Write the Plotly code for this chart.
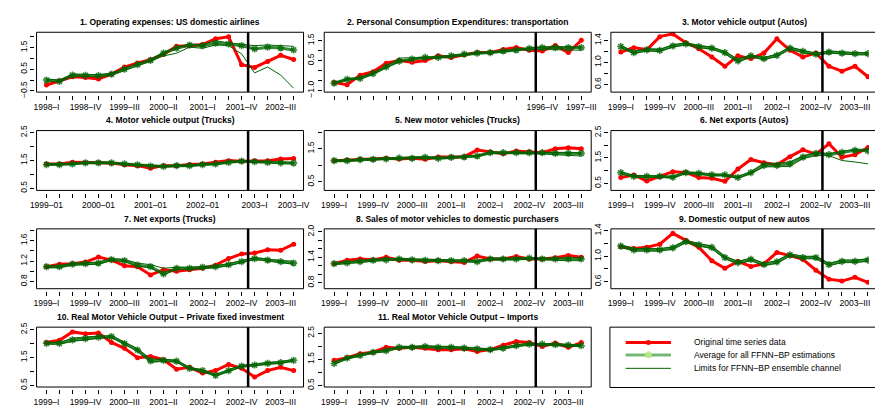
import plotly.graph_objects as go

FONT = "Liberation Sans, Arial, Helvetica, sans-serif"

# ---------------- data ----------------
QUARTER_INDEX = list(range(1, 21))
FORECAST_START = 16.5

TITLES = [
    "1. Operating expenses: US domestic airlines",
    "2. Personal Consumption Expenditures: transportation",
    "3. Motor vehicle output (Autos)",
    "4. Motor vehicle output (Trucks)",
    "5. New motor vehicles (Trucks)",
    "6. Net exports (Autos)",
    "7. Net exports (Trucks)",
    "8. Sales of motor vehicles to domestic purchasers",
    "9. Domestic output of new autos",
    "10. Real Motor Vehicle Output \u2013 Private fixed investment",
    "11. Real Motor Vehicle Output \u2013 Imports",
]

XTICK_POS_STD = [1, 4, 7, 10, 13, 16, 19]
XTICK_TXT_STD = ["1999\u2013I", "1999\u2013IV", "2000\u2013III", "2001\u2013II", "2002\u2013I", "2002\u2013IV", "2003\u2013III"]
XTICK_POS_1 = [1, 4, 7, 10, 13, 16, 19]
XTICK_TXT_1 = ["1998\u2013I", "1998\u2013IV", "1999\u2013III", "2000\u2013II", "2001\u2013I", "2001\u2013IV", "2002\u2013III"]
XTICK_POS_2 = [17, 20]
XTICK_TXT_2 = ["1996\u2013IV", "1997\u2013III"]
XTICK_POS_4 = [1, 5, 9, 13, 17, 20]
XTICK_TXT_4 = ["1999\u201301", "2000\u201301", "2001\u201301", "2002\u201301", "2003\u2013I", "2003\u2013IV"]

ORIG_1 = [-0.23, -0.03, 0.15, 0.12, 0.05, 0.27, 0.60, 0.79, 0.94, 1.18, 1.56, 1.59, 1.64, 1.91, 2.00, 0.71, 0.58, 0.86, 1.14, 0.95]
AVG_1 = [0.00, -0.06, 0.23, 0.21, 0.20, 0.27, 0.50, 0.71, 0.91, 1.24, 1.47, 1.62, 1.59, 1.70, 1.67, 1.59, 1.44, 1.52, 1.48, 1.39]
UP_1 = [0.05, 0.00, 0.27, 0.26, 0.25, 0.31, 0.55, 0.76, 0.95, 1.27, 1.52, 1.66, 1.64, 1.82, 1.72, 1.64, 1.59, 1.62, 1.59, 1.56]
LO_1 = [-0.04, -0.09, 0.19, 0.17, 0.15, 0.22, 0.45, 0.66, 0.86, 1.12, 1.24, 1.52, 1.47, 1.62, 1.59, 1.21, 0.33, 0.60, 0.23, -0.38]

ORIG_2 = [-0.60, -0.71, -0.23, -0.06, 0.37, 0.50, 0.42, 0.50, 0.74, 0.66, 0.79, 0.90, 0.90, 1.06, 1.15, 1.02, 0.98, 1.26, 0.90, 1.52]
AVG_2 = [-0.63, -0.44, -0.39, -0.15, 0.18, 0.47, 0.58, 0.66, 0.66, 0.74, 0.82, 0.87, 0.90, 0.98, 1.03, 1.10, 1.15, 1.15, 1.15, 1.15]
UP_2 = [-0.60, -0.41, -0.36, -0.12, 0.21, 0.63, 0.64, 0.68, 0.69, 0.77, 0.85, 0.90, 0.93, 1.01, 1.06, 1.13, 1.18, 1.18, 1.18, 1.18]
LO_2 = [-0.66, -0.47, -0.42, -0.18, 0.15, 0.44, 0.55, 0.63, 0.63, 0.71, 0.79, 0.84, 0.87, 0.95, 1.00, 1.07, 1.05, 1.03, 1.03, 1.02]

ORIG_3 = [1.19, 1.27, 1.23, 1.47, 1.52, 1.36, 1.25, 1.10, 0.93, 1.12, 1.07, 1.17, 1.43, 1.22, 1.10, 1.17, 0.93, 0.84, 0.93, 0.74]
AVG_3 = [1.29, 1.18, 1.23, 1.22, 1.30, 1.34, 1.29, 1.26, 1.18, 1.03, 1.12, 1.07, 1.13, 1.26, 1.20, 1.15, 1.19, 1.17, 1.16, 1.16]
UP_3 = [1.31, 1.20, 1.25, 1.24, 1.32, 1.36, 1.31, 1.28, 1.20, 1.06, 1.14, 1.09, 1.15, 1.28, 1.22, 1.17, 1.21, 1.19, 1.18, 1.18]
LO_3 = [1.27, 1.16, 1.21, 1.20, 1.28, 1.32, 1.27, 1.24, 1.16, 1.00, 1.10, 1.05, 1.11, 1.24, 1.18, 1.13, 1.17, 1.15, 1.14, 1.14]

ORIG_4 = [1.37, 1.37, 1.43, 1.41, 1.41, 1.40, 1.34, 1.31, 1.22, 1.31, 1.31, 1.35, 1.37, 1.43, 1.49, 1.47, 1.49, 1.49, 1.55, 1.57]
AVG_4 = [1.35, 1.35, 1.37, 1.41, 1.41, 1.41, 1.37, 1.34, 1.29, 1.28, 1.31, 1.31, 1.35, 1.37, 1.43, 1.47, 1.45, 1.43, 1.41, 1.40]
UP_4 = [1.37, 1.37, 1.39, 1.43, 1.43, 1.43, 1.39, 1.36, 1.31, 1.30, 1.33, 1.33, 1.37, 1.39, 1.45, 1.49, 1.47, 1.46, 1.44, 1.43]
LO_4 = [1.33, 1.33, 1.35, 1.39, 1.39, 1.39, 1.35, 1.32, 1.27, 1.26, 1.29, 1.29, 1.33, 1.35, 1.41, 1.45, 1.43, 1.40, 1.38, 1.37]

ORIG_5 = [1.14, 1.16, 1.18, 1.18, 1.21, 1.19, 1.21, 1.18, 1.25, 1.25, 1.26, 1.46, 1.40, 1.35, 1.43, 1.41, 1.38, 1.50, 1.53, 1.50]
AVG_5 = [1.14, 1.14, 1.17, 1.18, 1.19, 1.22, 1.21, 1.24, 1.21, 1.24, 1.25, 1.28, 1.38, 1.38, 1.38, 1.38, 1.38, 1.36, 1.36, 1.36]
UP_5 = [1.16, 1.16, 1.19, 1.20, 1.21, 1.24, 1.23, 1.26, 1.23, 1.26, 1.27, 1.30, 1.40, 1.40, 1.40, 1.40, 1.40, 1.38, 1.38, 1.38]
LO_5 = [1.12, 1.12, 1.15, 1.16, 1.17, 1.20, 1.19, 1.22, 1.19, 1.22, 1.23, 1.26, 1.36, 1.36, 1.36, 1.36, 1.35, 1.32, 1.30, 1.28]

ORIG_6 = [0.73, 0.83, 0.59, 0.77, 0.96, 0.93, 0.73, 0.70, 0.58, 1.06, 1.44, 1.31, 1.23, 1.55, 1.82, 1.65, 2.06, 1.53, 1.63, 1.91]
AVG_6 = [0.92, 0.77, 0.77, 0.77, 0.74, 0.92, 0.89, 0.83, 0.83, 0.73, 0.92, 1.21, 1.21, 1.27, 1.53, 1.68, 1.63, 1.72, 1.80, 1.78]
UP_6 = [0.96, 0.81, 0.80, 0.80, 0.78, 0.95, 0.92, 0.86, 0.86, 0.76, 0.96, 1.30, 1.28, 1.35, 1.58, 1.72, 1.67, 1.76, 1.84, 1.84]
LO_6 = [0.88, 0.74, 0.74, 0.74, 0.71, 0.89, 0.86, 0.80, 0.80, 0.70, 0.88, 1.15, 1.15, 1.17, 1.47, 1.59, 1.59, 1.40, 1.34, 1.27]

ORIG_7 = [1.09, 1.14, 1.15, 1.18, 1.28, 1.22, 1.11, 1.09, 0.93, 1.03, 1.00, 1.03, 1.06, 1.12, 1.25, 1.34, 1.36, 1.42, 1.41, 1.53]
AVG_7 = [1.09, 1.09, 1.14, 1.15, 1.16, 1.23, 1.21, 1.12, 1.09, 0.95, 1.06, 1.06, 1.08, 1.09, 1.13, 1.19, 1.25, 1.22, 1.19, 1.16]
UP_7 = [1.11, 1.11, 1.16, 1.17, 1.18, 1.25, 1.23, 1.16, 1.13, 1.06, 1.08, 1.08, 1.10, 1.11, 1.15, 1.21, 1.27, 1.24, 1.21, 1.20]
LO_7 = [1.07, 1.07, 1.12, 1.13, 1.14, 1.21, 1.19, 1.10, 1.07, 0.93, 1.04, 1.04, 1.06, 1.07, 1.11, 1.17, 1.23, 1.20, 1.17, 1.14]

ORIG_8 = [1.25, 1.33, 1.36, 1.34, 1.40, 1.33, 1.33, 1.30, 1.32, 1.30, 1.28, 1.43, 1.36, 1.36, 1.42, 1.36, 1.36, 1.39, 1.44, 1.40]
AVG_8 = [1.25, 1.27, 1.30, 1.33, 1.34, 1.36, 1.34, 1.33, 1.32, 1.32, 1.32, 1.30, 1.36, 1.36, 1.36, 1.38, 1.36, 1.36, 1.36, 1.36]
UP_8 = [1.27, 1.29, 1.32, 1.35, 1.36, 1.38, 1.36, 1.35, 1.34, 1.34, 1.34, 1.32, 1.38, 1.38, 1.38, 1.40, 1.38, 1.38, 1.39, 1.39]
LO_8 = [1.23, 1.25, 1.28, 1.31, 1.32, 1.34, 1.32, 1.31, 1.30, 1.30, 1.30, 1.28, 1.34, 1.34, 1.34, 1.36, 1.34, 1.33, 1.32, 1.32]

ORIG_9 = [1.15, 1.12, 1.14, 1.19, 1.36, 1.25, 1.14, 0.93, 0.81, 0.92, 0.84, 0.88, 1.06, 1.01, 0.95, 0.78, 0.64, 0.61, 0.67, 0.59]
AVG_9 = [1.16, 1.10, 1.10, 1.10, 1.13, 1.23, 1.18, 1.14, 0.98, 0.90, 0.95, 0.87, 0.91, 1.02, 0.98, 0.98, 0.87, 0.92, 0.92, 0.94]
UP_9 = [1.18, 1.12, 1.12, 1.12, 1.15, 1.25, 1.20, 1.16, 1.00, 0.92, 0.97, 0.89, 0.93, 1.04, 1.00, 1.00, 0.89, 0.94, 0.94, 0.96]
LO_9 = [1.14, 1.08, 1.08, 1.08, 1.11, 1.21, 1.16, 1.12, 0.96, 0.88, 0.93, 0.85, 0.89, 1.00, 0.96, 0.96, 0.85, 0.90, 0.90, 0.92]

ORIG_10 = [2.04, 2.12, 2.42, 2.35, 2.38, 2.04, 1.83, 1.49, 1.54, 1.42, 1.08, 1.15, 0.94, 1.03, 1.25, 1.11, 0.80, 1.03, 1.15, 1.03]
AVG_10 = [2.01, 2.01, 2.13, 2.18, 2.23, 2.25, 2.00, 1.77, 1.38, 1.40, 1.37, 1.11, 1.03, 0.86, 1.03, 1.19, 1.23, 1.29, 1.32, 1.40]
UP_10 = [2.04, 2.04, 2.20, 2.24, 2.27, 2.28, 2.04, 1.82, 1.45, 1.44, 1.40, 1.14, 1.06, 0.89, 1.06, 1.22, 1.26, 1.32, 1.35, 1.43]
LO_10 = [1.98, 1.98, 2.08, 2.14, 2.19, 2.22, 1.96, 1.72, 1.33, 1.36, 1.34, 1.08, 1.00, 0.83, 1.00, 1.16, 1.20, 1.26, 1.29, 1.37]

ORIG_11 = [1.46, 1.56, 1.71, 1.77, 1.96, 1.92, 1.96, 1.92, 1.87, 1.87, 1.90, 1.80, 1.87, 2.04, 2.18, 2.14, 1.99, 2.12, 1.96, 2.14]
AVG_11 = [1.34, 1.55, 1.65, 1.77, 1.83, 1.96, 1.96, 1.99, 1.96, 1.96, 1.93, 1.90, 1.87, 1.93, 2.02, 2.08, 2.08, 2.06, 2.04, 2.02]
UP_11 = [1.37, 1.58, 1.68, 1.80, 1.86, 1.99, 1.99, 2.02, 1.99, 1.99, 1.96, 1.93, 1.90, 1.96, 2.05, 2.11, 2.11, 2.09, 2.07, 2.05]
LO_11 = [1.31, 1.52, 1.62, 1.74, 1.80, 1.93, 1.93, 1.96, 1.93, 1.93, 1.90, 1.87, 1.84, 1.90, 1.99, 2.05, 2.05, 2.03, 2.01, 1.99]

M = "\u2212"
PANELS = [
    dict(orig=ORIG_1, avg=AVG_1, up=UP_1, lo=LO_1, yr=[-0.56, 2.21],
         yt=[-0.5, 0, 0.5, 1, 1.5, 2], yl=[M + "0.5", "", "0.5", "", "1.5", ""],
         xp=XTICK_POS_1, xt=XTICK_TXT_1),
    dict(orig=ORIG_2, avg=AVG_2, up=UP_2, lo=LO_2, yr=[-1.08, 1.92],
         yt=[-1, -0.5, 0, 0.5, 1, 1.5], yl=[M + "1.0", "", "", "0.5", "", "1.5"],
         xp=XTICK_POS_2, xt=XTICK_TXT_2),
    dict(orig=ORIG_3, avg=AVG_3, up=UP_3, lo=LO_3, yr=[0.46, 1.55],
         yt=[0.6, 0.8, 1.0, 1.2, 1.4], yl=["0.6", "", "1.0", "", "1.4"],
         xp=XTICK_POS_STD, xt=XTICK_TXT_STD),
    dict(orig=ORIG_4, avg=AVG_4, up=UP_4, lo=LO_4, yr=[0.42, 2.57],
         yt=[0.5, 1, 1.5, 2, 2.5], yl=["0.5", "", "1.5", "", "2.5"],
         xp=XTICK_POS_4, xt=XTICK_TXT_4),
    dict(orig=ORIG_5, avg=AVG_5, up=UP_5, lo=LO_5, yr=[0.24, 2.05],
         yt=[0.5, 1, 1.5, 2], yl=["0.5", "", "1.5", ""],
         xp=XTICK_POS_STD, xt=XTICK_TXT_STD),
    dict(orig=ORIG_6, avg=AVG_6, up=UP_6, lo=LO_6, yr=[0.22, 2.58],
         yt=[0.5, 1, 1.5, 2, 2.5], yl=["0.5", "", "1.5", "", "2.5"],
         xp=XTICK_POS_STD, xt=XTICK_TXT_STD),
    dict(orig=ORIG_7, avg=AVG_7, up=UP_7, lo=LO_7, yr=[0.66, 1.83],
         yt=[0.8, 1.0, 1.2, 1.4, 1.6, 1.8], yl=["0.8", "", "1.2", "", "1.6", ""],
         xp=XTICK_POS_STD, xt=XTICK_TXT_STD),
    dict(orig=ORIG_8, avg=AVG_8, up=UP_8, lo=LO_8, yr=[0.66, 2.07],
         yt=[0.8, 1.0, 1.2, 1.4, 1.6, 1.8, 2.0], yl=["0.8", "", "", "1.4", "", "", "2.0"],
         xp=XTICK_POS_STD, xt=XTICK_TXT_STD),
    dict(orig=ORIG_9, avg=AVG_9, up=UP_9, lo=LO_9, yr=[0.49, 1.43],
         yt=[0.6, 0.8, 1.0, 1.2, 1.4], yl=["0.6", "", "1.0", "", "1.4"],
         xp=XTICK_POS_STD, xt=XTICK_TXT_STD),
    dict(orig=ORIG_10, avg=AVG_10, up=UP_10, lo=LO_10, yr=[0.44, 2.59],
         yt=[0.5, 1, 1.5, 2, 2.5], yl=["0.5", "", "1.5", "", "2.5"],
         xp=XTICK_POS_STD, xt=XTICK_TXT_STD),
    dict(orig=ORIG_11, avg=AVG_11, up=UP_11, lo=LO_11, yr=[0.44, 2.73],
         yt=[0.5, 1, 1.5, 2, 2.5], yl=["0.5", "", "1.5", "", "2.5"],
         xp=XTICK_POS_STD, xt=XTICK_TXT_STD),
]

LEGEND_LABELS = ["Original time series data", "Average for all FFNN\u2013BP estimations",
                 "Limits for FFNN\u2013BP ensemble channel"]

# ---------------- styling / layout ----------------
W, H = 875, 412
COL_LEFT = [30, 322, 613]
BOX_W = 271
ROW_TOP = [28, 129, 230, 331]
BOX_H = 61.5
XR = (0.24, 20.76)
AXGAP = 2.5
TICK_FS = 8.5

RED = "#FF0000"
AVG_LINE = "rgba(0,100,0,0.78)"
DKGREEN = "#006400"

fig = go.Figure()
layout = dict(width=W, height=H, margin=dict(l=0, r=0, t=0, b=0),
              paper_bgcolor="white", plot_bgcolor="white", showlegend=False,
              font=dict(family=FONT, size=8.5, color="black"))
shapes, annotations = [], []


def px(x):
    return x / W


def py(y):
    return 1 - y / H


for i, p in enumerate(PANELS):
    n = i + 1
    r, c = divmod(i, 3)
    sx = "" if n == 1 else str(n)
    xa, ya = "x" + sx, "y" + sx
    left = COL_LEFT[c]
    right = left + BOX_W
    top = ROW_TOP[r]
    bot = top + BOX_H
    vis_right = min(right, W)
    xr1 = XR[0] + (vis_right - left) / BOX_W * (XR[1] - XR[0])

    ticktext = [p["xt"][p["xp"].index(q)] if q in p["xp"] else "" for q in QUARTER_INDEX]
    layout["xaxis" + sx] = dict(
        domain=[px(left), px(vis_right)], range=[XR[0], xr1], anchor="free",
        position=py(bot + AXGAP), tickvals=QUARTER_INDEX, ticktext=ticktext,
        ticks="outside", ticklen=4, tickwidth=1, tickcolor="black",
        showgrid=False, zeroline=False, showline=False, tickangle=0,
        ticklabeloverflow="allow",
        tickfont=dict(size=TICK_FS, family=FONT, color="black"), fixedrange=True)
    layout["yaxis" + sx] = dict(
        domain=[py(bot), py(top)], range=p["yr"], anchor="free",
        position=px(left - AXGAP), tickvals=p["yt"], ticktext=p["yl"],
        ticks="outside", ticklen=4, tickwidth=1, tickcolor="black", tickangle=-90,
        showgrid=False, zeroline=False, showline=False,
        tickfont=dict(size=TICK_FS, family=FONT, color="black"), fixedrange=True)

    fig.add_trace(go.Scatter(x=QUARTER_INDEX, y=p["orig"], mode="lines+markers",
                             line=dict(color=RED, width=3),
                             marker=dict(size=5, color=RED),
                             xaxis=xa, yaxis=ya))
    for lim in (p["up"], p["lo"]):
        fig.add_trace(go.Scatter(x=QUARTER_INDEX, y=lim, mode="lines",
                                 line=dict(color=DKGREEN, width=1),
                                 xaxis=xa, yaxis=ya))
    fig.add_trace(go.Scatter(x=QUARTER_INDEX, y=p["avg"], mode="lines+markers",
                             line=dict(color=AVG_LINE, width=3),
                             marker=dict(symbol="asterisk-open", size=6,
                                         line=dict(color=DKGREEN, width=1.6)),
                             xaxis=xa, yaxis=ya))

    shapes.append(dict(type="rect", xref="paper", yref="paper",
                       x0=px(left), x1=px(right), y0=py(bot), y1=py(top),
                       line=dict(color="black", width=1)))
    shapes.append(dict(type="line", xref=xa, yref=ya + " domain",
                       x0=FORECAST_START, x1=FORECAST_START, y0=0, y1=1,
                       line=dict(color="black", width=2.5)))
    annotations.append(dict(text="<b>" + TITLES[i] + "</b>", xref="paper", yref="paper",
                            x=px((left + right) / 2), y=py(top - 10.5),
                            xanchor="center", yanchor="middle", showarrow=False,
                            font=dict(size=8.5, family=FONT, color="black")))

# ---------------- legend box ----------------
LG_L, LG_R, LG_T, LG_B = 612, 884, 331, 393
shapes.append(dict(type="rect", xref="paper", yref="paper",
                   x0=px(LG_L), x1=px(LG_R), y0=py(LG_B), y1=py(LG_T),
                   line=dict(color="black", width=1)))
layout["xaxis12"] = dict(domain=[px(LG_L), 1], range=[LG_L, W], visible=False,
                         fixedrange=True, anchor="y12")
layout["yaxis12"] = dict(domain=[py(LG_B), py(LG_T)], range=[LG_B, LG_T], visible=False,
                         fixedrange=True, anchor="x12")
rows_y = [346.7, 359.5, 373.3]
styles = [
    dict(line=dict(color=RED, width=3), marker=dict(size=5, color=RED)),
    dict(line=dict(color="rgba(0,128,0,0.55)", width=3),
         marker=dict(symbol="asterisk-open", size=6, line=dict(color=DKGREEN, width=1.6))),
    dict(line=dict(color=DKGREEN, width=1), marker=dict(size=0.1, color="rgba(0,0,0,0)")),
]
for yy, st, lab in zip(rows_y, styles, LEGEND_LABELS):
    fig.add_trace(go.Scatter(x=[628, 651, 674], y=[yy, yy, yy], mode="lines",
                             line=st["line"], xaxis="x12", yaxis="y12", hoverinfo="skip"))
    fig.add_trace(go.Scatter(x=[651], y=[yy], mode="markers", marker=st["marker"],
                             xaxis="x12", yaxis="y12", hoverinfo="skip"))
    annotations.append(dict(text=lab, xref="paper", yref="paper", x=px(695), y=py(yy),
                            xanchor="left", yanchor="middle", showarrow=False,
                            font=dict(size=8.5, family=FONT, color="black")))

layout["shapes"] = shapes
layout["annotations"] = annotations
fig.update_layout(**layout)
fig.write_html("out.html", config={"displayModeBar": False, "staticPlot": True},
               post_script="document.body.style.margin='0';document.body.style.overflow='hidden';")
